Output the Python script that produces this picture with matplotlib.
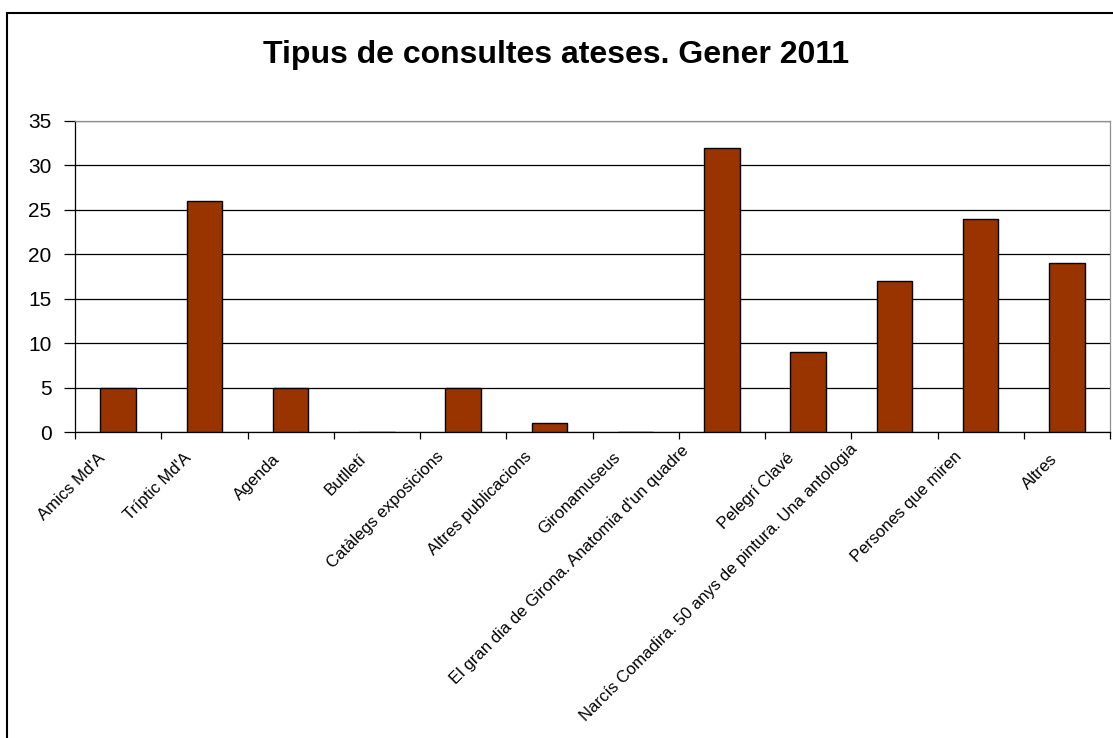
import numpy as np
import matplotlib.pyplot as plt
import matplotlib.transforms as mtransforms
from matplotlib.patches import Rectangle

categories = ["Amics Md'A", "Tríptic Md'A", "Agenda", "Butlletí", "Catàlegs exposicions",
              "Altres publicacions", "Gironamuseus", "El gran dia de Girona. Anatomia d'un quadre",
              "Pelegrí Clavé", "Narcís Comadira. 50 anys de pintura. Una antologia",
              "Persones que miren", "Altres"]
values = [5, 26, 5, 0, 5, 1, 0, 32, 9, 17, 24, 19]
yticks = [0, 5, 10, 15, 20, 25, 30, 35]

plt.rcParams['font.family'] = ['Liberation Sans', 'DejaVu Sans']

fig = plt.figure(figsize=(11.13, 7.38), dpi=100)
ax = fig.add_axes([75/1113, 1 - 432/738, 1035/1113, 311/738])

x = np.arange(len(categories))
ax.bar(x, values, width=0.41, color='#993300', edgecolor='black', linewidth=1, zorder=3)

ax.set_xlim(-0.5, len(categories) - 0.5)
ax.set_ylim(0, 35)
ax.set_yticks(yticks)
ax.yaxis.grid(True, color='black', linewidth=0.9, zorder=0)
ax.tick_params(axis='y', length=8, width=0.9, labelsize=15, pad=9)

ax.set_xticks(x)
ax.set_xticklabels(categories, rotation=45, ha='right', va='top', rotation_mode='anchor', fontsize=12)
ax.set_xticks(np.arange(len(categories) + 1) - 0.5, minor=True)
ax.tick_params(axis='x', which='major', length=0, pad=9)
ax.tick_params(axis='x', which='minor', length=5, width=0.9)

for s in ['top', 'right']:
    ax.spines[s].set_color('#909090')
    ax.spines[s].set_linewidth(0.9)
for s in ['left', 'bottom']:
    ax.spines[s].set_color('black')
    ax.spines[s].set_linewidth(0.9)

fig.text(556/1113, 1 - 55/738, 'Tipus de consultes ateses. Gener 2011',
         ha='center', va='center', fontsize=23, fontweight='bold')

# outer frame (only top and left edges fall inside the image)
fig.patches.append(Rectangle((7/1113, -0.1), 1.2, 1 - 13/738 + 0.1, transform=fig.transFigure,
                             fill=False, edgecolor='black', linewidth=1.5))

# longer labels sit further up and left, as in the original
fig.canvas.draw()
for lbl in ax.get_xticklabels():
    bb = lbl.get_window_extent()
    L = bb.width * np.sqrt(2)
    dx = -13 - 0.08 * L
    dy = -9 + 0.03 * L
    lbl.set_transform(lbl.get_transform() +
                      mtransforms.ScaledTranslation(dx / 100, dy / 100, fig.dpi_scale_trans))

fig.savefig('out.png', dpi=100)
